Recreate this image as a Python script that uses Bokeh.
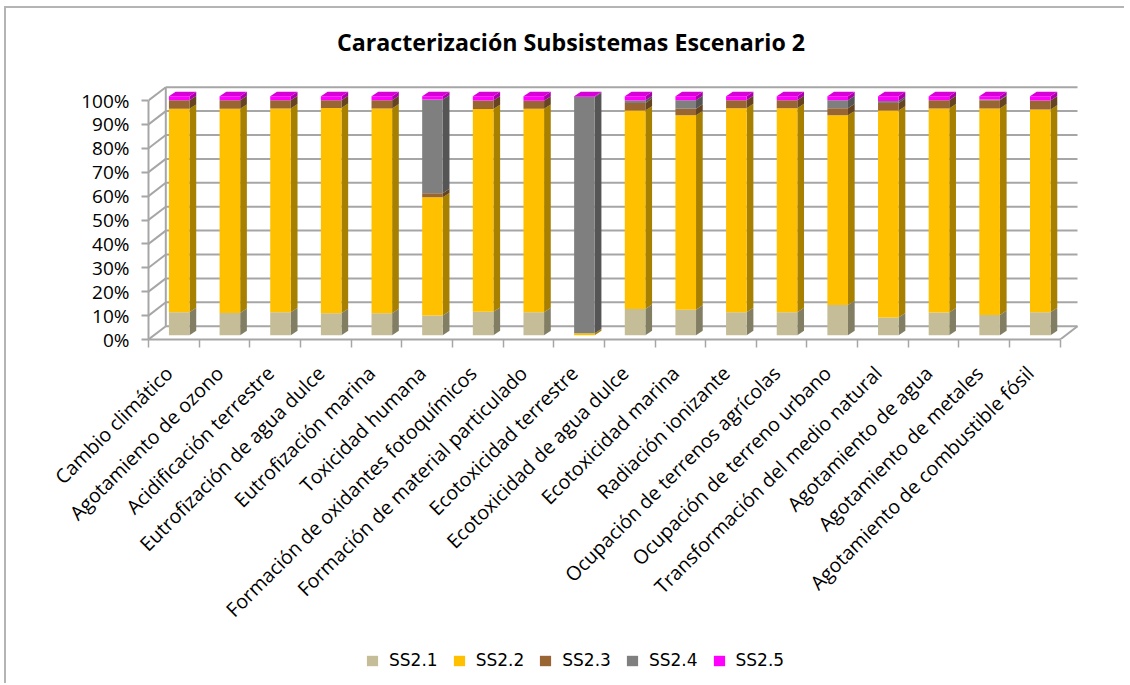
from bokeh.plotting import figure
from bokeh.layouts import column
from bokeh.models import (ColumnDataSource, FixedTicker, Legend, LegendItem, Range1d, LinearAxis,
                          PrintfTickFormatter)
from bokeh.core.properties import value
from bokeh.embed import file_html
from bokeh.resources import INLINE
import math

title_text = "Caracterización Subsistemas Escenario 2"
categories = ["Cambio climático", "Agotamiento de ozono", "Acidificación terrestre",
              "Eutrofización de agua dulce", "Eutrofización marina", "Toxicidad humana",
              "Formación de oxidantes fotoquímicos", "Formación de material particulado",
              "Ecotoxicidad terrestre", "Ecotoxicidad de agua dulce", "Ecotoxicidad marina",
              "Radiación ionizante", "Ocupación de terrenos agrícolas", "Ocupación de terreno urbano",
              "Transformación del medio natural", "Agotamiento de agua", "Agotamiento de metales",
              "Agotamiento de combustible fósil"]
SS21 = [9.6, 9.3, 9.6, 9.2, 9.2, 8.2, 9.8, 9.6, 0.0, 11.0, 10.7, 9.6, 9.6, 12.6, 7.4, 9.5, 8.5, 9.6]
SS22 = [85.1, 85.4, 85.3, 85.9, 85.7, 49.5, 84.8, 85.1, 0.8, 83.0, 81.3, 85.4, 85.4, 79.4, 86.6, 85.4, 86.4, 84.8]
SS23 = [3.6, 3.6, 3.4, 3.2, 3.4, 1.7, 3.6, 3.4, 0.0, 3.2, 2.8, 3.3, 3.3, 3.0, 3.2, 3.4, 3.4, 3.8]
SS24 = [0.0, 0.0, 0.0, 0.0, 0.0, 39.2, 0.0, 0.0, 98.9, 1.0, 3.5, 0.0, 0.0, 3.3, 0.8, 0.0, 0.3, 0.0]
SS25 = [1.7, 1.7, 1.7, 1.7, 1.7, 1.4, 1.8, 1.9, 0.3, 1.8, 1.7, 1.7, 1.7, 1.7, 2.0, 1.7, 1.4, 1.8]
series_names = ["SS2.1", "SS2.2", "SS2.3", "SS2.4", "SS2.5"]
series_values = [SS21, SS22, SS23, SS24, SS25]
front_colors = ["#C4BD97", "#FFC000", "#996633", "#7F7F7F", "#FF00FF"]
side_colors = ["#827E64", "#A88000", "#664422", "#555555", "#AA00AA"]
top_color = "#D800D8"
y_ticks = [0, 10, 20, 30, 40, 50, 60, 70, 80, 90, 100]

FONT = "Open Sans"
GRID = "#A6A6A6"
BORDER = "2px solid #B4B4B4"
PX_X = 50.65   # pixels per category
PX_Y = 2.39    # pixels per percent
DEPTH_X = 17.3 / PX_X
DEPTH_Y = 13.3 / PX_Y
BAR_OFF_X = 5.4 / PX_X
BAR_OFF_Y = 4.3 / PX_Y
BAR_W = 20.6 / PX_X
SIDE_X = 6.7 / PX_X
SIDE_Y = 4.4 / PX_Y
LABEL_SHIFT = 5 / PX_X
FRAME_H = 331
n = len(categories)

p = figure(width=1120, height=632, output_backend="svg", toolbar_location=None,
           x_range=Range1d(0, 930 / PX_X), y_range=Range1d(0, FRAME_H / PX_Y),
           min_border_left=142, min_border_right=48, min_border_top=0, min_border_bottom=301,
           x_axis_type=None, y_axis_type=None, background_fill_color="white",
           margin=(6, 0, 0, 4),
           styles={"border-left": BORDER, "border-top": BORDER})
p.outline_line_color = None
p.grid.visible = False

p.text(x=[422.5 / PX_X], y=[298 / PX_Y], text=[title_text], text_align="center", text_baseline="middle",
       text_font=value(FONT), text_font_size="23.2px", text_font_style="bold", text_color="black")

# 3D wall lines
x0 = [DEPTH_X for _ in y_ticks] + [0 for _ in y_ticks] + [DEPTH_X, n]
x1 = [n + DEPTH_X for _ in y_ticks] + [DEPTH_X for _ in y_ticks] + [DEPTH_X, n + DEPTH_X]
y0 = [t + DEPTH_Y for t in y_ticks] + list(y_ticks) + [DEPTH_Y, 0]
y1 = [t + DEPTH_Y for t in y_ticks] + [t + DEPTH_Y for t in y_ticks] + [100 + DEPTH_Y, DEPTH_Y]
p.segment(x0, y0, x1, y1, line_color=GRID, line_width=2)

# stacked bars
bottom = [0.0] * n
for name, vals, fc, sc in zip(series_names, series_values, front_colors, side_colors):
    top = [b + v for b, v in zip(bottom, vals)]
    keep = [i for i in range(n) if vals[i] > 0]
    xc = [i + 0.5 + BAR_OFF_X for i in keep]
    xs_side = [[c + BAR_W / 2, c + BAR_W / 2 + SIDE_X, c + BAR_W / 2 + SIDE_X, c + BAR_W / 2] for c in xc]
    ys_side = [[bottom[i] + BAR_OFF_Y, bottom[i] + BAR_OFF_Y + SIDE_Y, top[i] + BAR_OFF_Y + SIDE_Y, top[i] + BAR_OFF_Y]
               for i in keep]
    p.patches(xs_side, ys_side, fill_color=sc, line_color=None)
    src = ColumnDataSource(dict(x=xc, bottom=[bottom[i] + BAR_OFF_Y for i in keep],
                                top=[top[i] + BAR_OFF_Y for i in keep]))
    p.vbar(x="x", bottom="bottom", top="top", width=BAR_W, source=src, fill_color=fc, line_color=None)
    bottom = top

# top caps
xc = [i + 0.5 + BAR_OFF_X for i in range(n)]
p.patches([[c - BAR_W / 2, c - BAR_W / 2 + SIDE_X, c + BAR_W / 2 + SIDE_X, c + BAR_W / 2] for c in xc],
          [[b + BAR_OFF_Y, b + BAR_OFF_Y + SIDE_Y, b + BAR_OFF_Y + SIDE_Y, b + BAR_OFF_Y] for b in bottom],
          fill_color=top_color, line_color=None)

# axes
yaxis = LinearAxis(ticker=FixedTicker(ticks=y_ticks), bounds=(0, 100),
                   formatter=PrintfTickFormatter(format="%d%%"))
yaxis.axis_line_color = GRID
yaxis.axis_line_width = 2
yaxis.major_tick_line_color = GRID
yaxis.major_tick_line_width = 2
yaxis.major_tick_in = 0
yaxis.major_tick_out = 7
yaxis.minor_tick_line_color = None
yaxis.major_label_text_font = FONT
yaxis.major_label_text_font_size = "19px"
yaxis.major_label_text_color = "black"
yaxis.major_label_standoff = 12
p.add_layout(yaxis, "left")

centers = [i + 0.5 - LABEL_SHIFT for i in range(n)]
xaxis = LinearAxis(ticker=FixedTicker(ticks=centers, minor_ticks=list(range(n + 1))), bounds=(0, n))
xaxis.major_label_overrides = {c: t for c, t in zip(centers, categories)}
xaxis.axis_line_color = GRID
xaxis.axis_line_width = 2
xaxis.major_tick_line_color = None
xaxis.major_tick_in = 0
xaxis.major_tick_out = 0
xaxis.minor_tick_line_color = GRID
xaxis.minor_tick_line_width = 1.5
xaxis.minor_tick_in = 0
xaxis.minor_tick_out = 8
xaxis.major_label_orientation = math.pi / 4
xaxis.major_label_text_font = FONT
xaxis.major_label_text_font_size = "19.6px"
xaxis.major_label_text_color = "black"
xaxis.major_label_standoff = 22
p.add_layout(xaxis, "below")

# legend strip
leg = figure(width=1120, height=45, output_backend="svg", toolbar_location=None,
             x_range=Range1d(0, 1), y_range=Range1d(0, 1), min_border_left=0, min_border_right=0,
             min_border_top=0, min_border_bottom=0, x_axis_type=None, y_axis_type=None,
             margin=(0, 0, 0, 4), styles={"border-left": BORDER})
leg.outline_line_color = None
leg.grid.visible = False
items = []
for name, fc in zip(series_names, front_colors):
    # zero-height bar: only its legend swatch shows
    r = leg.vbar(x=[0.5], bottom=[0], top=[0], width=0.1, fill_color=fc, line_color=None)
    items.append(LegendItem(label=name, renderers=[r]))
legend = Legend(items=items, orientation="horizontal", location=(217, 13),
                background_fill_alpha=0, border_line_color=None, glyph_width=14, glyph_height=13,
                label_standoff=10, spacing=14, margin=0, padding=4,
                label_text_font="DejaVu Sans", label_text_font_size="17px", label_text_color="black")
leg.add_layout(legend, "center")

open("out.html", "w").write(file_html(column(p, leg, spacing=0), INLINE))
